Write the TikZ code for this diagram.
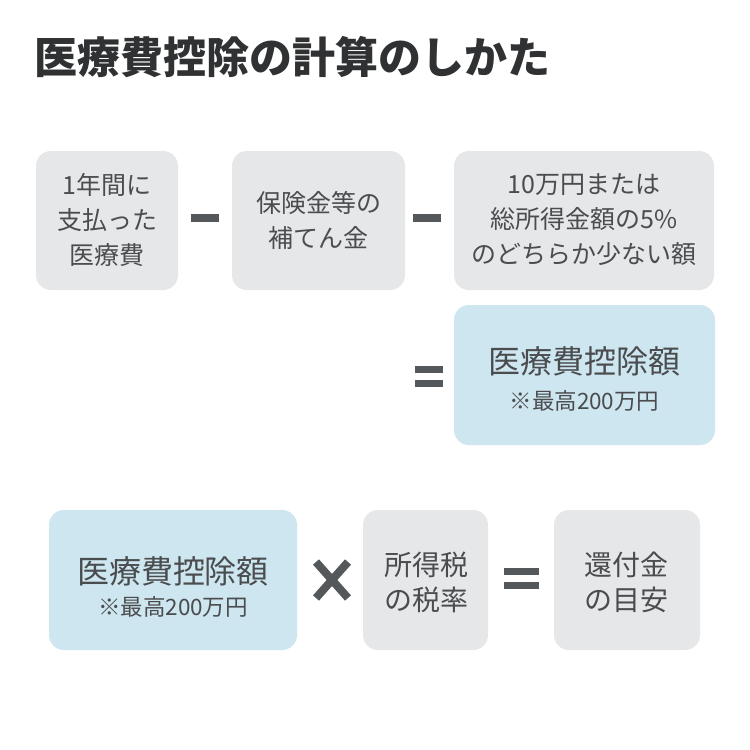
\documentclass[tikz,border=0pt]{standalone}
\usepackage{fontspec}
\setmainfont{Noto Sans CJK JP}
\definecolor{boxgray}{HTML}{E6E7E8}
\definecolor{boxblue}{HTML}{CDE6F0}
\definecolor{txt}{HTML}{4A4C4E}
\definecolor{title}{HTML}{2F3133}
\definecolor{op}{HTML}{54585B}
\tikzset{
  graybox/.style={fill=boxgray, rounded corners=15pt, inner sep=0pt},
  bluebox/.style={fill=boxblue, rounded corners=15pt, inner sep=0pt},
  lbl/.style={text=txt, align=center, font=\fontsize{25}{35}\selectfont},
  lblb/.style={text=txt, align=center, font=\fontsize{28}{35}\selectfont},
  big/.style={text=txt, font=\fontsize{32}{38}\selectfont},
  small/.style={text=txt, font=\fontsize{22.5}{26}\selectfont},
}
\begin{document}
\begin{tikzpicture}[x=1pt,y=-1pt]
\useasboundingbox[fill=white] (0,0) rectangle (750,750);
% title
\node[anchor=west, text=title, font=\fontsize{43}{48}\selectfont\bfseries] (ttl) at (31,57) {医療費控除の計算のしかた};
% row 1 boxes
\fill[graybox] (36,151) rectangle (178,290);
\node[lbl] (b1) at (107,220) {1年間に\\支払った\\医療費};
\fill[graybox] (232,151) rectangle (405,290);
\node[lbl] (b2) at (318.5,220) {保険金等の\\補てん金};
\fill[graybox] (454,151) rectangle (714,290);
\node[lbl] (b3) at (584,220) {10万円または\\総所得金額の5\%\\のどちらか少ない額};
% minus signs
\fill[op] (191,214) rectangle (219,222);
\fill[op] (413,214) rectangle (441,222);
% equals 1
\fill[op] (415,366) rectangle (443,373);
\fill[op] (415,380) rectangle (443,387);
% blue box 1
\fill[bluebox] (454,305) rectangle (715,445);
\node[big] (d1) at (584.5,361) {医療費控除額};
\node[small] (d1s) at (584.5,401) {※最高200万円};
% bottom row
\fill[bluebox] (49,510) rectangle (297,650);
\node[big] (d2) at (173,571) {医療費控除額};
\node[small] (d2s) at (173,607) {※最高200万円};
% cross
\draw[op, line width=8pt] (316,562) -- (348,598);
\draw[op, line width=8pt] (348,562) -- (316,598);
\fill[graybox] (363,510) rectangle (488,650);
\node[lblb] (t) at (426,582) {所得税\\の税率};
% equals 2
\fill[op] (504,568) rectangle (539,575);
\fill[op] (504,582) rectangle (539,589);
\fill[graybox] (554,510) rectangle (700,650);
\node[lblb] (r) at (626,582) {還付金\\の目安};
\end{tikzpicture}
\end{document}
